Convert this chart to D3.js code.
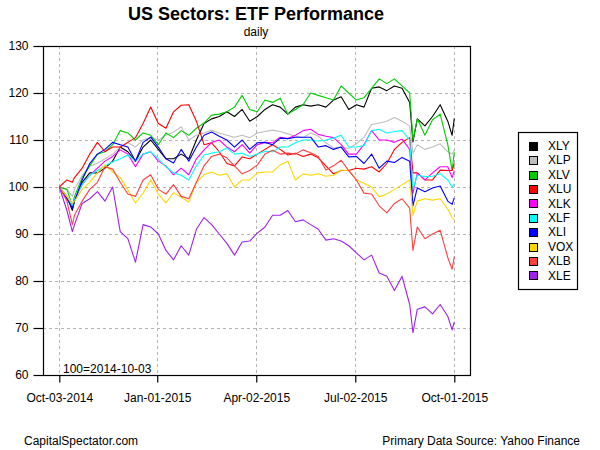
<!DOCTYPE html>
<html>
<head>
<meta charset="utf-8">
<script src="https://cdn.jsdelivr.net/npm/d3@7"></script>
<style>
  body { margin: 0; background: #fff; }
  svg { display: block; font-family: "Liberation Sans", Arial, sans-serif; }
</style>
</head>
<body>
<svg id="chart" width="600" height="450"></svg>
<script>
const dates = ["2014-10-03","2014-10-10","2014-10-15","2014-10-17","2014-10-24","2014-10-31",
"2014-11-07","2014-11-14","2014-11-21","2014-11-28","2014-12-05","2014-12-12","2014-12-19","2014-12-26",
"2015-01-02","2015-01-09","2015-01-16","2015-01-23","2015-01-30","2015-02-06","2015-02-13","2015-02-20","2015-02-27",
"2015-03-06","2015-03-13","2015-03-20","2015-03-27","2015-04-03","2015-04-10","2015-04-17","2015-04-24",
"2015-05-01","2015-05-08","2015-05-15","2015-05-22","2015-05-29","2015-06-05","2015-06-12","2015-06-19","2015-06-26",
"2015-07-03","2015-07-10","2015-07-17","2015-07-24","2015-07-31","2015-08-07","2015-08-14","2015-08-21","2015-08-24","2015-08-28",
"2015-09-04","2015-09-11","2015-09-18","2015-09-25","2015-09-29","2015-10-01"];

const XLY = [100,98,95,97,101,103,103,104,105.5,108.5,107.5,105.5,108.5,110,108,106,106,107,106,110,113.5,114.5,115,116,115,116.5,114,115,116.5,117.5,117,115.5,117,117.5,117.2,117.5,117,118.5,119.2,116.5,117.5,117,121,121.3,120.5,121.5,121,118,109.6,114.5,113,115,117.5,114,111,114.6];
const XLP = [100,99.5,98,99.5,102.5,104.5,105,106,107,108.5,109.4,108.5,110,110.5,110,111,111.7,112.8,110,111,111.5,112.1,111.5,111,110.6,111,110.5,111.5,111.8,112.1,111.8,111.3,110.8,110.5,111.5,110.8,109.4,108.3,108.5,108.2,109.2,110.6,113.3,113.6,114,114.8,114,113,107.2,109,108,108.5,109.2,107.5,107,107.9];
const XLV = [100,99.5,96,98,102,104.5,107,107.5,109,112,111.5,110,111.5,111,109,111.5,110.5,112,111,112.5,113.6,115.3,115.5,116,117,119.5,116.5,116,118.5,118,118.9,115.5,116.5,117.5,120,119.5,119,118.5,121.5,120,118.5,119,121,123,122,123,121.5,120,110,114.5,111,114.3,115.5,109,103.5,107.4];
const XLU = [100,101.5,101,102,104,107,109.5,107.5,108.5,108.5,109.5,110.5,113.5,117,113.5,112.5,116,117.4,117.5,114,109,109.4,107.5,105,104.5,106.4,106,107,108,109,108,106.8,107.2,106.5,107,106.2,104.5,102.8,103.5,103.5,104,103.8,104.3,103.2,105,108,109.5,110.5,103,103,101.5,101.5,103.6,103.5,103.5,105];
const XLK = [100,97.5,96,97.5,100.5,102.5,104,105.5,106.5,107.9,107,104.3,107,107.5,105.5,104.5,102.6,104,102.6,106,107.9,109.5,110,108.5,107.5,109,107.2,109,109.5,109.4,110.6,110.3,111,112,112.3,111.2,110.8,110.5,109,107,107,109,112,110,110,109.5,110.2,108,98.7,103,101.5,103,104.3,104.3,102,103.5];
const XLF = [100,98,96,97.5,100.5,102.5,103.5,104.5,105.3,106,106.8,105.5,107,107.5,106,104.3,103,102.5,101.5,104.5,106.8,107.2,107.5,108.3,107,107.2,106.5,107,107.6,107.5,108.5,108.5,109.4,110,110,109.8,110,110.4,111,108.5,108.5,108.8,112,112.3,111.5,111.8,112,110,99.5,102.5,102.2,102.3,102.8,101.5,100,100.7];
const XLI = [100,97.5,95.5,97,101.5,105,107,108,109.5,109,108.5,105.5,109.5,110.6,108.5,106,105.1,108,105.5,108.5,111,111.7,110.8,110,108.5,110,108,109.4,109.5,109,110.4,110.3,110.6,110.6,110.6,108.5,108.8,108,108.5,106.4,106.5,105,107,104,105.5,105.2,106.3,105.5,96,99.8,99,99.8,100.2,97,96.3,97.7];
const VOX = [100,98,96.5,97,99.5,101,103,104.7,103.2,102,99.4,96.6,98.7,101.5,98.5,96.6,98.8,97.8,96.8,101,102.6,103.2,102.5,102.8,100,101.5,101.5,103,103.2,103.2,104.7,105.5,101.5,102.8,102.5,102.8,102.3,102.5,103.6,103.5,101.5,100.8,100,97.9,98.5,99.5,100.5,101.5,94,97,97.5,97.2,97.5,95.3,93.5,93];
const XLB = [100,97,92,94,97,99.5,101,104.3,103.8,101,98.5,98,101.5,102.6,99.5,98.5,100.5,98,97.5,101,104.5,106.5,107,106.2,104.5,102.8,103.5,104.7,107,107.8,107,107.2,107,107.9,107.3,106.5,103.6,104.5,105.7,103.5,101.5,98.7,98.5,96,94.5,96.5,97.5,95.5,86.5,91.5,89,90,90.8,85,82.5,85.2];
const XLE = [100,95,90.5,92,96.5,97.5,99,97,100,90.5,89,84,92,91.5,90,86.5,84.5,87.5,85.5,91,93.5,92,90,88,85.5,88.3,88.5,90.2,91.5,94,94,95,92.6,93,92,91,88.7,89,88.5,87.5,86,84.5,85.5,81.7,81,78,81,75,69,74,74.5,73,75,72.5,69.6,71.3];

const seriesNames = ["XLY","XLP","XLV","XLU","XLK","XLF","XLI","VOX","XLB","XLE"];
const seriesValues = [XLY,XLP,XLV,XLU,XLK,XLF,XLI,VOX,XLB,XLE];
const seriesColors = ["#000000","#BEBEBE","#00CD00","#FF0000","#FF00FF","#00FFFF","#0000FF","#FFD700","#FF4040","#A020F0"];

const yTicks = [60,70,80,90,100,110,120,130];
const xTickDates = ["2014-10-03","2015-01-01","2015-04-02","2015-07-02","2015-10-01"];

const parse = d3.timeParse("%Y-%m-%d");
const svg = d3.select("#chart");
const box = {left: 43, top: 46, right: 470, bottom: 375};

const x = d3.scaleTime()
  .domain([parse(dates[0]), parse(dates[dates.length-1])])
  .range([59.3, 454.3]);
const y = d3.scaleLinear().domain([60,130]).range([box.bottom, box.top]);

// grid
const grid = svg.append("g").attr("stroke","#b4b4b4").attr("stroke-dasharray","3,3").attr("stroke-width",1);
grid.selectAll("line.h").data(yTicks).join("line")
  .attr("x1", box.left).attr("x2", box.right)
  .attr("y1", d => Math.round(y(d))+0.5).attr("y2", d => Math.round(y(d))+0.5);
grid.selectAll("line.v").data(xTickDates).join("line")
  .attr("y1", box.top).attr("y2", box.bottom)
  .attr("x1", d => Math.round(x(parse(d)))+0.5).attr("x2", d => Math.round(x(parse(d)))+0.5);

// lines
const line = d3.line().x((d,i) => x(parse(dates[i]))).y(d => y(d));
const lg = svg.append("g");
seriesValues.forEach((vals, k) => {
  lg.append("path").attr("d", line(vals))
    .attr("fill","none").attr("stroke", seriesColors[k]).attr("stroke-width",1.1)
    .attr("stroke-linejoin","round");
});

// box
svg.append("rect").attr("x", box.left+0.5).attr("y", box.top+0.5)
  .attr("width", box.right-box.left).attr("height", box.bottom-box.top)
  .attr("fill","none").attr("stroke","#000").attr("stroke-width",1.2);

// axes
const yAxis = svg.append("g").attr("transform", `translate(${box.left+0.5},0)`)
  .call(d3.axisLeft(y).tickValues(yTicks).tickSize(10).tickPadding(5).tickFormat(d3.format("d")));
yAxis.select(".domain").remove();
yAxis.selectAll("text").attr("font-size",12).attr("font-family","Liberation Sans, Arial, sans-serif").attr("fill","#000");
yAxis.selectAll("line").attr("stroke","#000").attr("stroke-width",1.2);

const xAxis = svg.append("g").attr("transform", `translate(0,${box.bottom+0.5})`)
  .call(d3.axisBottom(x).tickValues(xTickDates.map(parse)).tickSize(7).tickPadding(11)
    .tickFormat(d3.timeFormat("%b-%d-%Y")));
xAxis.select(".domain").remove();
xAxis.selectAll("text").attr("font-size",12).attr("font-family","Liberation Sans, Arial, sans-serif").attr("fill","#000");
xAxis.selectAll("line").attr("stroke","#000").attr("stroke-width",1.2);

// titles
svg.append("text").attr("x",256).attr("y",20).attr("text-anchor","middle")
  .attr("font-size",18).attr("font-weight","bold").text("US Sectors: ETF Performance");
svg.append("text").attr("x",256).attr("y",36).attr("text-anchor","middle")
  .attr("font-size",12).text("daily");
svg.append("text").attr("x",63).attr("y",373).attr("font-size",12).text("100=2014-10-03");
svg.append("text").attr("x",24).attr("y",445).attr("font-size",12).text("CapitalSpectator.com");
svg.append("text").attr("x",580).attr("y",445).attr("text-anchor","end").attr("font-size",12).text("Primary Data Source: Yahoo Finance");

// legend
const leg = svg.append("g");
leg.append("rect").attr("x",518.5).attr("y",132.5).attr("width",59).attr("height",157)
  .attr("fill","#fff").attr("stroke","#000").attr("stroke-width",1.2);
seriesNames.forEach((n,i) => {
  const cy = 145.7 + i*14.4;
  leg.append("rect").attr("x",529.5).attr("y",Math.round(cy-4)+0.5).attr("width",8).attr("height",8)
    .attr("fill",seriesColors[i]).attr("stroke","#000").attr("stroke-width",1);
  leg.append("text").attr("x",548).attr("y",cy+4.3).attr("font-size",12).text(n);
});
</script>
</body>
</html>
